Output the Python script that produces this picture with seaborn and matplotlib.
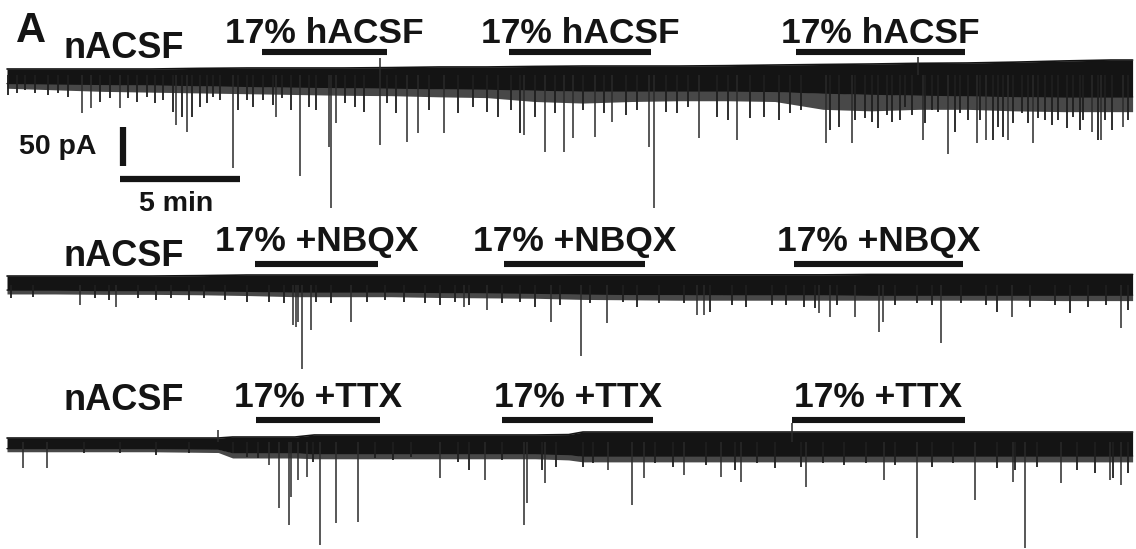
import numpy as np
import pandas as pd
import matplotlib
matplotlib.use("Agg")
import matplotlib.pyplot as plt
import seaborn as sns

# ---------------- data ----------------
# envelope knot times (min)
env_t = [0, 2, 4, 6, 8, 10, 12, 14, 16, 18, 20, 22, 24, 26, 28, 30,
         32, 34, 36, 38, 40, 42, 44, 46, 46.9]
env_t3 = [0, 2, 4, 6, 8.8, 9.4, 12, 12.8, 14, 16, 18, 20, 22, 23.4, 24, 26, 28,
          30, 32, 34, 36, 38, 40, 42, 44, 46, 46.9]

# trace 1: nACSF / 17% hACSF  (pA relative to holding level)
t1_top = [7.7, 7.7, 7.7, 7.7, 8.5, 9.0, 9.0, 9.0, 9.5, 10.3, 10.3, 11.0, 11.5,
          11.5, 11.5, 12.0, 12.8, 13.5, 14.1, 15.0, 15.4, 16.5, 18.0, 19.2, 19.2]
t1_core = [-11.0, -11.5, -12.0, -12.5, -13.5, -14.5, -15.4, -16.0, -16.7, -17.5,
           -18.0, -19.2, -20.5, -20.5, -20.5, -20.5, -21.0, -23.1, -24.5, -25.6,
           -26.5, -27.5, -28.2, -28.2, -28.2]
t1_fringe = [-17.0, -19.0, -21.0, -22.0, -23.0, -24.0, -25.0, -26.0, -26.5, -28.0,
             -29.0, -34.0, -36.0, -34.0, -33.0, -33.0, -34.0, -44.0, -46.0, -44.0,
             -44.0, -46.0, -47.0, -47.0, -47.0]
# large events
t1_ev_t = [3.13, 3.5, 4.71, 7.04, 7.5, 9.42, 11.21, 12.21, 13.42, 13.5, 13.71, 15.54,
           16.67, 17.13, 18.21, 21.54, 22.42, 23.21, 23.58, 24.5, 25.21, 26.75, 26.96,
           28.83, 30.42, 34.13, 35.21, 38.17, 39.21, 40.42, 40.79, 41.71, 42.75, 45.21,
           45.58, 46.5, 15.54, 37.96]
t1_ev_a = [-48.7, -42.3, -42.3, -64.1, -73.1, -119.2, -53.8, -129.5, -92.3, -170.5,
           -61.5, -89.7, -85.9, -74.4, -74.4, -76.9, -98.7, -98.7, -80.8, -79.5, -60.3,
           -92.3, -170.5, -80.8, -83.3, -87.2, -87.2, -83.3, -101.3, -87.2, -83.3, -83.3,
           -87.2, -73.1, -83.3, -66.7, 21.8, 23.0]
# smaller events
t1_sm_t = [0.04, 0.42, 0.75, 1.17, 1.71, 2.13, 2.54, 3.88, 4.29, 5.04, 5.42, 5.83,
           6.17, 6.5, 6.92, 7.29, 7.71, 8.04, 8.33, 8.58, 8.88, 9.63, 10.0, 10.25,
           10.67, 11.08, 11.46, 11.83, 12.58, 12.88, 14.08, 14.5, 14.88, 15.83, 16.21,
           17.58, 18.79, 19.42, 20.0, 20.46, 21.0, 21.38, 22.0, 22.83, 24.0, 24.88,
           25.79, 26.25, 27.46, 27.92, 28.38, 29.58, 30.04, 30.96, 31.54, 32.17, 32.63,
           33.08, 34.29, 34.67, 35.33, 35.75, 36.04, 36.29, 36.67, 36.88, 37.21, 37.42,
           37.71, 38.25, 38.54, 38.79, 39.5, 39.71, 40.04, 40.54, 41.08, 41.29, 41.5,
           41.92, 42.29, 42.54, 42.96, 43.25, 43.54, 43.79, 44.17, 44.42, 44.71, 44.83,
           45.46, 45.75, 46.04, 46.71]
t1_sm_a = [-25.6, -23.1, -19.2, -23.1, -25.6, -23.1, -28.2, -34.6, -29.5, -29.5,
           -34.6, -28.2, -35.9, -32.1, -47.4, -53.8, -53.8, -41.0, -35.9, -28.2, -32.1,
           -44.9, -32.1, -41.0, -32.1, -38.5, -29.5, -44.9, -41.0, -44.9, -35.9, -41.0,
           -47.4, -35.9, -48.7, -44.9, -48.7, -41.0, -47.4, -53.8, -44.9, -74.4, -53.8,
           -48.7, -44.9, -48.7, -51.3, -44.9, -47.4, -48.7, -41.0, -53.8, -57.7, -55.1,
           -53.8, -57.7, -48.7, -44.9, -70.5, -66.7, -57.7, -55.1, -60.3, -67.9, -51.3,
           -60.3, -57.7, -41.0, -51.3, -61.5, -44.9, -47.4, -73.1, -48.7, -57.7, -57.7,
           -83.3, -66.7, -79.5, -61.5, -48.7, -61.5, -55.1, -57.7, -64.1, -57.7, -67.9,
           -53.8, -70.5, -57.7, -83.3, -57.7, -70.5, -57.7]

# trace 2: nACSF / 17% + NBQX
t2_top = [11.5, 11.5, 11.5, 11.5, 12.0, 12.8, 12.8, 12.8, 12.8, 12.8, 12.8, 12.8, 13.0,
          13.0, 13.0, 13.0, 13.0, 13.0, 13.5, 13.5, 13.5, 13.5, 13.5, 13.5, 13.5]
t2_core = [-6.5, -6.5, -7.0, -7.0, -7.5, -8.0, -9.0, -9.0, -9.0, -9.5, -10.0, -10.5,
           -11.5, -12.0, -12.0, -12.5, -12.5, -12.5, -13.0, -13.0, -13.0, -13.0,
           -13.0, -13.0, -13.0]
t2_fringe = [-11.5, -11.5, -12.0, -12.0, -12.5, -13.5, -15.0, -15.0, -15.0, -16.0,
             -16.5, -17.0, -18.5, -19.0, -19.5, -19.5, -19.5, -19.5, -19.5, -19.5,
             -19.5, -19.5, -20.0, -20.0, -20.0]
t2_ev_t = [3.04, 4.54, 11.92, 12.04, 12.13, 12.29, 12.67, 14.33, 19.04, 20.0, 22.67,
           23.92, 25.0, 28.75, 29.04, 33.83, 34.29, 35.33, 36.33, 36.5, 38.92, 41.88,
           46.42]
t2_ev_a = [-25.6, -28.2, -51.3, -53.8, -47.4, -107.7, -57.7, -47.4, -28.2, -32.1,
           -47.4, -91.0, -48.7, -38.5, -38.5, -35.9, -41.0, -41.0, -60.3, -47.4,
           -74.4, -41.0, -55.1]
t2_sm_t = [0.17, 1.08, 3.67, 4.25, 5.46, 6.21, 6.83, 7.58, 8.21, 9.08, 10.0, 10.92,
           11.54, 12.88, 13.5, 15.0, 15.75, 16.54, 17.42, 18.04, 18.67, 19.25, 20.63,
           21.38, 22.0, 23.04, 24.29, 25.67, 26.25, 27.17, 28.21, 29.29, 30.21, 30.79,
           31.88, 32.46, 33.21, 33.67, 34.58, 37.0, 37.92, 38.54, 39.75, 40.79, 41.25,
           42.63, 43.67, 44.29, 45.04, 45.79, 46.71]
t2_sm_a = [-16.7, -15.4, -16.7, -19.2, -16.7, -19.2, -16.7, -19.2, -16.7, -19.2, -21.8,
           -21.8, -23.1, -21.8, -23.1, -21.8, -19.2, -21.8, -23.1, -25.6, -21.8, -25.6,
           -23.1, -21.8, -28.2, -25.6, -23.1, -21.8, -28.2, -23.1, -23.1, -34.6, -25.6,
           -28.2, -25.6, -25.6, -28.2, -29.5, -25.6, -25.6, -23.1, -25.6, -23.1, -25.6,
           -34.6, -28.2, -25.6, -35.9, -28.2, -25.6, -32.1]

# trace 3: nACSF / 17% + TTX (own knot grid, env_t3)
t3_top = [5.1, 5.1, 5.1, 5.1, 5.1, 6.4, 6.4, 9.0, 9.0, 9.0, 9.0, 9.0, 9.0, 9.5, 12.8,
          12.8, 12.8, 12.8, 12.8, 12.8, 12.8, 12.8, 12.8, 12.8, 12.8, 12.8, 12.8]
t3_core = [-8.5, -8.5, -8.5, -8.5, -9.0, -13.5, -13.5, -15.0, -15.0, -15.0, -15.0,
           -15.0, -15.0, -16.0, -18.0, -18.0, -18.0, -18.0, -18.0, -18.0, -18.0,
           -18.0, -18.0, -18.0, -18.0, -18.0, -18.0]
t3_fringe = [-12.5, -12.5, -12.5, -12.5, -13.5, -20.5, -20.5, -21.5, -21.5, -21.5,
             -21.5, -21.5, -21.5, -23.0, -25.5, -25.5, -25.5, -25.5, -25.5, -25.5,
             -25.5, -25.5, -25.5, -25.5, -25.5, -25.5, -25.5]
t3_ev_t = [0.67, 1.67, 10.92, 11.33, 11.75, 11.83, 12.13, 12.5, 13.04, 13.71, 14.63,
           18.04, 19.92, 21.54, 21.67, 22.42, 25.04, 26.04, 26.54, 28.21, 29.75, 30.58,
           33.29, 36.54, 37.92, 40.33, 41.92, 42.42, 43.92, 45.96, 46.42, 8.79, 32.71]
t3_ev_a = [-33.3, -33.3, -29.5, -84.6, -106.4, -70.5, -48.7, -44.9, -132.1, -103.8,
           -102.6, -46.2, -48.7, -106.4, -78.2, -52.6, -35.9, -80.8, -46.2, -42.3,
           -44.9, -51.3, -57.7, -48.7, -123.1, -74.4, -51.3, -135.9, -52.6, -48.7,
           -55.1, 15.4, 24.4]
t3_sm_t = [3.21, 4.71, 6.21, 7.58, 9.42, 10.0, 10.46, 12.75, 15.33, 16.08, 16.83,
           18.79, 19.25, 20.63, 22.29, 22.88, 24.0, 24.42, 27.0, 27.75, 29.13, 30.33,
           31.25, 32.0, 33.08, 34.0, 34.88, 35.79, 37.0, 38.54, 39.42, 41.25, 42.0,
           42.92, 44.58, 45.33, 46.08, 46.71]
t3_sm_a = [-14.1, -14.1, -16.7, -14.1, -14.1, -19.2, -20.5, -25.6, -20.5, -23.1, -19.2,
           -25.6, -35.9, -23.1, -35.9, -32.1, -32.1, -26.9, -26.9, -32.1, -29.5, -35.9,
           -26.9, -33.3, -32.1, -26.9, -29.5, -26.9, -29.5, -32.1, -26.9, -33.3, -35.9,
           -32.1, -35.9, -39.7, -46.2, -39.7]

# drug application periods (min)
drug_labels = ["17% hACSF", "17% +NBQX", "17% +TTX"]
drug_on = [[10.63, 20.92, 32.88], [10.33, 20.71, 32.79], [10.38, 20.63, 32.71]]
drug_off = [[15.83, 26.83, 39.92], [15.46, 26.58, 39.83], [15.54, 26.92, 39.92]]
control_label = "nACSF"

SCALE_PA = 50
SCALE_MIN = 5

# ---------------- layout ----------------
W, H = 1136, 549
PX_PER_MIN = 24.0
PX_PER_PA = 0.78
X0_PX = 7
base_px = [75, 285, 442]          # holding level of each trace (px from top)
bar_px = [52, 264, 420]           # drug bar level
lab_base_px = [43, 251, 407]      # drug label baseline
ctrl_base_px = [58, 266, 410]     # nACSF label baseline

sns.set_theme(style="white")
plt.rcParams['font.family'] = ['Liberation Sans', 'DejaVu Sans']
INK = '#141414'

fig = plt.figure(figsize=(W / 100, H / 100), dpi=100)
fig.patch.set_facecolor('white')

traces = [
    (env_t, t1_top, t1_core, t1_fringe, t1_ev_t, t1_ev_a, t1_sm_t, t1_sm_a),
    (env_t, t2_top, t2_core, t2_fringe, t2_ev_t, t2_ev_a, t2_sm_t, t2_sm_a),
    (env_t3, t3_top, t3_core, t3_fringe, t3_ev_t, t3_ev_a, t3_sm_t, t3_sm_a),
]

def pa(y0, ypx):
    return (y0 - ypx) / PX_PER_PA

axes = []
for k, (kt, top, core, fringe, ev_t, ev_a, sm_t, sm_a) in enumerate(traces):
    y0 = base_px[k]
    ax = fig.add_axes([0, 0, 1, 1])
    ax.patch.set_alpha(0)
    df = pd.DataFrame({"t": kt, "top": top, "core": core, "fringe": fringe})
    ax.fill_between(df["t"], df["core"], df["top"], color=INK, lw=0)
    ax.fill_between(df["t"], df["fringe"], df["core"], color=INK, alpha=0.78, lw=0)
    sns.lineplot(data=df, x="t", y="top", ax=ax, color=INK, lw=1.2)
    sns.lineplot(data=df, x="t", y="core", ax=ax, color=INK, lw=1.0)
    ax.vlines(sm_t, 0, sm_a, color='#1e1e1e', lw=1.3)
    ax.vlines(ev_t, 0, ev_a, color='#2a2a2a', lw=1.1)
    # drug bars and labels
    lvl = pa(y0, bar_px[k])
    for on, off in zip(drug_on[k], drug_off[k]):
        ax.plot([on, off], [lvl, lvl], color=INK, lw=4.4, solid_capstyle='butt')
        ax.text((on + off) / 2, pa(y0, lab_base_px[k]), drug_labels[k],
                ha='center', va='baseline', fontsize=25.5, fontweight='bold',
                color=INK)
    fig.text(64 / W, 1 - ctrl_base_px[k] / H, control_label, ha='left',
             va='baseline', fontsize=26, fontweight='bold', color=INK)
    ax.set_xlim(-X0_PX / PX_PER_MIN, (W - X0_PX) / PX_PER_MIN)
    ax.set_ylim((y0 - H) / PX_PER_PA, y0 / PX_PER_PA)
    ax.axis('off')
    axes.append(ax)

# scale bars on trace 1
ax = axes[0]
y0 = base_px[0]
sb_t0 = (120 - X0_PX) / PX_PER_MIN
v_top = pa(y0, 126.7)
v_x = sb_t0 + 3 / PX_PER_MIN
ax.plot([v_x, v_x], [v_top, v_top - SCALE_PA], color=INK, lw=4.5, solid_capstyle='butt')
h_y = pa(y0, 179)
ax.plot([sb_t0, sb_t0 + SCALE_MIN], [h_y, h_y], color=INK, lw=4.5, solid_capstyle='butt')
fig.text(19 / W, 1 - 147 / H, f"{SCALE_PA} pA", ha='left', va='center',
         fontsize=20.5, fontweight='bold', color=INK)
fig.text(139 / W, 1 - 211 / H, f"{SCALE_MIN} min", ha='left', va='baseline',
         fontsize=20.5, fontweight='bold', color=INK)

fig.text(16 / W, 1 - 42 / H, "A", ha='left', va='baseline', fontsize=30,
         fontweight='bold', color=INK)

fig.savefig("out.png", dpi=100, facecolor='white')
